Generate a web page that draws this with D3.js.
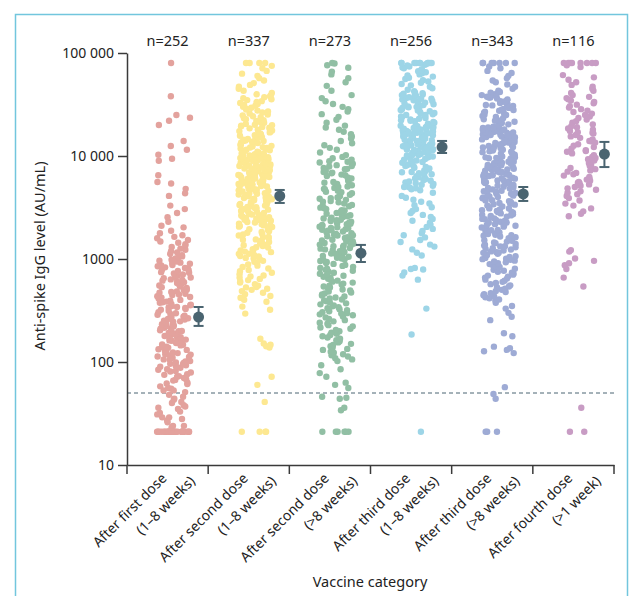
<!DOCTYPE html>
<html>
<head>
<meta charset="utf-8">
<script src="https://cdn.jsdelivr.net/npm/d3@7"></script>
<style>
  body { margin: 0; background: #fff; }
  svg { display: block; font-family: "Noto Sans", sans-serif; }
</style>
</head>
<body>
<div id="chart"></div>
<script>
// categories (two label lines each)
const categoryLine1 = ["After first dose", "After second dose", "After second dose", "After third dose", "After third dose", "After fourth dose"];
const categoryLine2 = ["(1–8 weeks)", "(1–8 weeks)", "(>8 weeks)", "(1–8 weeks)", "(>8 weeks)", "(>1 week)"];
const nCounts = [252, 337, 273, 256, 343, 116];

// geometric means with 95% CI (AU/mL)
const geoMeans = [273, 4090, 1140, 12200, 4280, 10450];
const ciLower = [224, 3500, 935, 10700, 3660, 7810];
const ciUpper = [342, 4680, 1370, 14000, 5000, 13700];

// y axis ticks and positivity threshold
const yTicks = [10, 100, 1000, 10000, 100000];
const yTickLabels = ["10", "100", "1000", "10 000", "100 000"];
const threshold = 50;

// individual anti-spike IgG levels (AU/mL)
const afterFirstDose = [
  21, 21, 21, 21, 21, 21, 21, 21, 21, 21, 21, 21, 21, 21, 21, 21, 21, 21, 21, 21, 21, 21, 21, 21, 21, 21, 21, 21,
  23, 24, 24, 26, 27, 28, 29, 29, 31, 32, 33, 35, 36, 37, 38, 40, 41, 43, 44, 46, 48,
  51, 53, 53, 55, 56, 58, 61, 62, 63, 66, 67, 68, 70, 72, 73, 75, 76, 79, 81, 82, 84, 85, 88, 90, 91, 93, 95, 96, 98, 99,
  101, 102, 105, 106, 110, 112, 113, 116, 118, 119, 122, 124, 127, 128, 131, 133, 134, 138, 140, 141,
  145, 147, 148, 153, 155, 156, 161, 162, 165, 170, 171, 174, 179, 180, 183, 189, 190, 193, 199, 200,
  203, 210, 211, 215, 221, 223, 226, 233, 235, 239, 246, 248, 252, 259, 262, 266, 274, 276, 281, 288, 292, 297, 305, 314,
  322, 327, 334, 338, 342, 349, 356, 360, 366, 375, 380, 386, 394, 401, 405, 414, 422, 428, 436, 447,
  452, 460, 471, 478, 485, 497, 504, 512, 524, 533, 540, 553, 562, 570, 584, 594, 601, 616, 626, 634,
  650, 661, 670, 686, 697, 706, 724, 736, 745, 764, 777, 786, 806, 820, 830, 851, 865, 874, 898, 913, 922, 947, 963, 986,
  1010, 1040, 1060, 1090, 1120, 1160, 1190, 1230, 1260, 1310, 1350, 1390, 1440, 1480, 1530, 1590, 1640, 1700, 1780, 1880,
  2030, 2100, 2300, 2550, 2800, 3050, 3300,
  4100, 4350, 4800, 5400, 5600, 6500, 9000, 9400, 10300, 11500, 12500, 14000, 20000, 22000, 23500, 25000, 38000, 80000
];

const afterSecondDoseEarly = [
  21, 21, 21, 21, 41, 60, 72,
  138, 142, 147, 151, 168, 295, 322, 345, 384, 402, 421, 437, 455, 470, 488, 502, 515, 530, 535, 552,
  568, 590, 606, 624, 641, 660, 678, 692, 712, 735, 760, 784, 810, 835, 862, 885, 910, 938, 960, 988,
  1010, 1025, 1060, 1070, 1095, 1120, 1125, 1165, 1180, 1210, 1230, 1245, 1290, 1300, 1335, 1360, 1370, 1415,
  1450, 1460, 1500, 1540, 1550, 1595, 1630, 1640, 1690, 1730, 1750, 1800, 1830, 1860, 1910, 1945, 1975,
  2010, 2045, 2060, 2095, 2120, 2135, 2175, 2200, 2215, 2260, 2290, 2305, 2350, 2385, 2400, 2440, 2465, 2500, 2545, 2570,
  2600, 2645, 2670, 2700, 2755, 2780, 2805, 2860, 2895, 2930, 2970, 3015, 3050, 3085, 3130, 3175, 3210, 3255, 3300, 3345,
  3390, 3425, 3480, 3525, 3570, 3605, 3660, 3715, 3760, 3805, 3860, 3915, 3960, 4005, 4070, 4125, 4180, 4225, 4290, 4345,
  4400, 4455, 4520, 4585, 4640, 4695, 4760, 4835, 4890, 4955,
  5010, 5070, 5110, 5160, 5200, 5250, 5290, 5340, 5390, 5430, 5480, 5530, 5580, 5630, 5680, 5730, 5780, 5830, 5880, 5940,
  5990, 6040, 6100, 6150, 6210, 6260, 6320, 6380, 6430, 6490, 6550, 6610, 6670, 6730, 6790, 6850, 6910, 6980, 7040, 7100,
  7170, 7230, 7300, 7360, 7430, 7500, 7570, 7630, 7700, 7770, 7840, 7910, 7990, 8060, 8130, 8210, 8280, 8360, 8430, 8510,
  8590, 8670, 8750, 8830, 8910, 8990, 9070, 9150, 9240, 9320, 9410, 9490, 9580, 9660, 9750, 9840, 9930, 9960, 9990, 5050,
  5600, 6200, 7000, 8000, 9000,
  10100, 10250, 10400, 10550, 10700, 10850, 11000, 11200, 11350, 11500, 11700, 11850, 12000, 12200, 12400, 12550, 12750,
  12950, 13150, 13350, 13550, 13750, 13950, 14150, 14400, 14600, 14800, 15050, 15250, 15500, 15700, 15950, 16200, 16450,
  16700, 16950, 17200, 17450, 17700, 18000, 18250, 18550, 18800, 19100, 19400, 19700, 19900, 10600, 12100, 14000,
  20100, 20500, 21000, 21400, 21900, 22300, 22800, 23300, 23800, 24300, 24800, 25300, 25900, 26400, 27000, 27600, 28200,
  28800, 29400, 30000, 30700, 31300, 32000, 32700, 33400, 34100, 34900, 35600, 36400, 37200, 38000, 38800, 39700,
  41000, 43000, 45000, 47000, 49000, 51000, 54000, 57000, 60000, 63000, 67000, 71000, 75000,
  80000, 80000, 80000, 80000
];

const afterSecondDoseLate = [
  21, 21, 21, 21, 21, 21, 34, 36, 44, 45, 46, 56, 60, 63, 72, 78, 85, 93,
  102, 106, 109, 113, 116, 119, 123, 126, 131, 134, 138, 142, 146, 150, 155, 159, 163, 168, 173, 178,
  183, 188, 193, 199, 205, 210, 216, 222, 228, 235, 241, 248, 255, 262, 270, 277, 284, 290, 295, 298,
  304, 311, 318, 325, 332, 340, 347, 355, 363, 371, 379, 388, 396, 405, 414, 423, 433, 442, 452, 462,
  473, 483, 494, 505, 516, 528, 540, 552, 564, 577, 590, 603, 616, 630, 644, 658, 673, 688, 703, 719,
  735, 751, 768, 785, 803, 820, 839, 857, 876, 896, 916, 936, 957, 978, 995,
  1010, 1030, 1050, 1070, 1090, 1110, 1130, 1150, 1170, 1190, 1220, 1240, 1260, 1280, 1310, 1330, 1360, 1380, 1410, 1430,
  1460, 1490, 1510, 1540, 1570, 1600, 1630, 1660, 1690, 1720, 1750, 1780, 1820, 1850, 1880, 1920, 1950, 1990, 2030, 2060,
  2100, 2140, 2180, 2220, 2260, 2300, 2340, 2380, 2430, 2470, 2520, 2560, 2610, 2660, 2700, 2750, 2800, 2850, 2900, 2960,
  1120, 1350, 1480, 1700, 1900, 2000, 2200, 2400, 2600, 2980,
  3050, 3150, 3250, 3350, 3450, 3550, 3650, 3750, 3850, 3950, 4100, 4200, 4350, 4450, 4600, 4750, 4900, 5050, 5200, 5350,
  5500, 5700, 5850, 6050, 6200, 6400, 6600, 6800, 7000, 7200, 7450, 7650, 7900, 8150, 8400, 8650, 8900, 9200, 9500, 9800,
  3300, 3600, 4000, 4500, 5000, 5600, 6100, 6900, 7500, 8000, 8800, 3100, 3900, 4800, 6500,
  10200, 10800, 11500, 12000, 12700, 13300, 14000, 14800, 15500, 16300, 17200, 18000, 18900, 19700,
  21000, 22500, 24000, 25500, 27000, 28500, 30000, 32000, 34000, 36500, 39000,
  43000, 48000, 52000, 57000, 62000, 66000, 72000, 76000, 79000, 80000
];

const afterThirdDoseEarly = [
  21, 185, 330, 630, 690, 740, 790, 800, 820,
  1080, 1150, 1240, 1320, 1380, 1460, 1530, 1620, 1700, 1780, 1870, 1960, 2050, 2150, 2250, 2350, 2450, 2560, 2680, 2800,
  2920, 3050, 3180, 3320, 3460, 3600, 3760, 3930, 4100, 4400,
  4650, 4750, 4850, 4950, 5050, 5150, 5250, 5350, 5450, 5550, 5650, 5750, 5850, 5950, 6050, 6200, 6350, 6500, 6650, 6800,
  6950, 7100, 7250, 7400, 7550, 7700, 7850, 8000, 8150, 8300, 8450, 8600, 8750, 8900, 9050, 9200, 9350, 9500, 9650, 9800,
  9900, 5000, 6000, 7000, 8000,
  10050, 10150, 10250, 10350, 10450, 10550, 10650, 10750, 10850, 10950, 11050, 11150, 11250, 11350, 11450, 11550, 11650,
  11750, 11850, 11950, 12050, 12150, 12250, 12350, 12450, 12550, 12650, 12750, 12850, 12950, 13050, 13200, 13350, 13500,
  13650, 13800, 13950, 14100, 14250, 14400, 14550, 14700, 14850, 15000, 15150, 15300, 15450, 15600, 15750, 15900, 16050,
  16200, 16350, 16500, 16650, 16800, 16950, 17100, 17250, 17400, 17550, 17700, 17850, 18000, 18150, 18300, 18450, 18600,
  18750, 18900, 19050, 19200, 19350, 19500, 19650, 19800, 19950, 11000, 12000, 13000, 14000, 15000, 16000, 17000, 18000,
  19000, 12500,
  20200, 20600, 21000, 21400, 21800, 22200, 22600, 23000, 23400, 23800, 24200, 24600, 25000, 25400, 25800, 26200, 26700,
  27200, 27700, 28200, 28700, 29200, 29700, 30200, 30700, 31200, 31800, 32400, 33000, 33600, 34200, 34800, 35400, 36000,
  36600, 37200, 37800, 38400, 39000, 39600, 40200, 40800, 41400, 22000, 25000, 28000, 30000, 33000, 36000, 39000,
  42500, 44000, 45500, 47000, 48500, 50000, 51500, 53000, 54500, 56000, 57500, 59000, 60500, 62000, 63500, 65000, 66500,
  68000, 69500, 71000, 72500, 74000, 75500, 77000, 78500,
  80000, 80000, 80000, 80000, 80000, 80000, 80000, 80000, 80000, 80000
];

const afterThirdDoseLate = [
  21, 21, 21, 44, 49, 57,
  122, 127, 131, 136, 141, 178, 190, 255, 275, 300, 330, 350, 375, 395,
  405, 415, 425, 435, 445, 455, 465, 478, 490, 502, 515, 528, 540, 555, 570, 585, 600,
  615, 630, 645, 660, 675, 690, 705, 720, 735, 750, 768, 785, 803, 820, 838, 856, 874, 892, 910, 928, 946, 964, 982, 997,
  1005, 1025, 1045, 1065, 1085, 1105, 1125, 1145, 1165, 1185, 1210, 1235, 1255, 1275, 1300, 1325, 1350, 1375, 1400, 1425,
  1450, 1475, 1505, 1535, 1565, 1595, 1625, 1655, 1685, 1715, 1745, 1775, 1810, 1845, 1880, 1915, 1950, 1985, 2020, 2060,
  2100, 2140, 2180, 2220, 2260, 2300, 2345, 2390, 2435, 2480, 2525, 2570, 2620, 2670, 2720, 2770, 2820, 2870, 2920, 2970,
  1150, 1330, 1520, 1700, 1900, 2100, 2250, 2450, 2650, 2850,
  3020, 3090, 3160, 3230, 3300, 3370, 3440, 3510, 3580, 3650, 3720, 3800, 3880, 3960, 4040, 4120, 4200, 4290, 4380, 4470,
  4560, 4650, 4740, 4840, 4940, 5040, 5140, 5240, 5350, 5460, 5570, 5680, 5790, 5910, 6030, 6150, 6270, 6400, 6530, 6660,
  6790, 6930, 7070, 7210, 7350, 7500, 7650, 7800, 7960, 8120, 8280, 8450, 8620, 8790, 8970, 9150, 9330, 9520, 9710, 9900,
  3100, 3400, 3700, 4000, 4300, 4600, 4900, 5200, 5500, 5800, 6100, 6400, 6700, 7000, 7300, 7600, 7900, 8200, 8500, 8800,
  9100, 9400, 9700, 3500, 4500, 5600, 6500, 7400, 8400, 9600,
  10100, 10300, 10500, 10700, 10900, 11100, 11300, 11500, 11700, 11900, 12100, 12300, 12500, 12700, 12900, 13100, 13300,
  13500, 13700, 13900, 14100, 14300, 14500, 14700, 14900, 15100, 15300, 15500, 15700, 15900, 16100, 16300, 16500, 16700,
  16900, 17100, 17300, 17500, 17700, 17900, 18100, 18300, 18500, 18700, 18900, 19100, 19300, 19500, 19700, 19900,
  10400, 11000, 11600, 12200, 12800, 13400, 14000, 14600, 15200, 16000, 17000, 18000, 19000,
  20300, 20900, 21500, 22100, 22700, 23300, 23900, 24500, 25100, 25700, 26300, 26900, 27500, 28100, 28700, 29300, 29900,
  30600, 31300, 32000, 32700, 33400, 34100, 34800, 35500, 36200, 36900, 37600, 38300, 39000, 39700, 40400, 41100, 41800,
  22000, 25000, 28000, 31000, 34000, 37000,
  43000, 45000, 47000, 49500, 52000, 54000, 57000, 60000, 64000, 67000, 71000, 74000,
  80000, 80000, 80000, 80000, 80000, 80000, 80000
];

const afterFourthDose = [
  21, 21, 36, 540, 660, 800, 870, 910, 960,
  1010, 1180, 1220, 2600, 2750, 2900, 3100, 3300, 3450, 3700, 3900,
  4100, 4250, 4400, 4550, 4700, 4850, 5000, 5150, 5300, 5450, 5600, 5750, 5900, 6050, 6250, 6450, 6650, 6850, 7050, 7250,
  7450, 7650, 7850, 8050, 8300, 8550, 8800, 9050, 9300, 9550, 9800, 5500,
  10200, 10600, 11000, 11400, 11800, 12200, 12600, 13000, 13500, 14000, 14500, 15000, 15500, 16000, 16500, 17000, 17500,
  18000, 18500, 19000, 19500, 11200, 13800, 16800,
  20300, 21000, 21800, 22600, 23400, 24200, 25000, 25800, 26700, 27600, 28500, 29500, 30500, 31500, 32500, 33500, 34500,
  35500, 36500, 37500,
  39000, 41000, 43000, 45000, 47000, 49000, 52000, 55000, 58000, 61000, 73000, 76000,
  80000, 80000, 80000, 80000, 80000, 80000, 80000, 80000
];

const series = [afterFirstDose, afterSecondDoseEarly, afterSecondDoseLate, afterThirdDoseEarly, afterThirdDoseLate, afterFourthDose];
const colors = ["#e3a29d", "#fde891", "#91bfa4", "#9dd5e7", "#9eabd5", "#c89cc4"];

const width = 633, height = 596;

// scales
const x = d3.scaleBand().domain(d3.range(categoryLine1.length)).range([127, 614]);
const y = d3.scaleLog().domain([10, 100000]).range([465, 53]);

// stable horizontal jitter per point
function jitter(i, k) {
  const s = Math.sin(i * 127.1 + k * 311.7) * 43758.5453;
  return s - Math.floor(s);
}

const svg = d3.select("#chart").append("svg")
  .attr("width", width)
  .attr("height", height);

// panel border
svg.append("rect")
  .attr("x", 15.5).attr("y", 14.5)
  .attr("width", 612).attr("height", 600)
  .attr("fill", "none")
  .attr("stroke", "#72c6dd")
  .attr("stroke-width", 1.5);

// threshold line
svg.append("line")
  .attr("x1", 127).attr("x2", 614)
  .attr("y1", y(threshold)).attr("y2", y(threshold))
  .attr("stroke", "#4b6472")
  .attr("stroke-width", 1)
  .attr("stroke-dasharray", "4,3");

// points
series.forEach((values, k) => {
  const cx = x(k) + x.bandwidth() / 2 + 6.5;
  svg.append("g")
    .selectAll("circle")
    .data(values)
    .join("circle")
    .attr("cx", (d, i) => cx + (jitter(i, k) - 0.5) * 34)
    .attr("cy", d => y(d))
    .attr("r", 3.2)
    .attr("fill", colors[k]);
});

// geometric mean and 95% CI
const meanG = svg.append("g")
  .attr("stroke", "#4a6470")
  .attr("fill", "#4a6470");
geoMeans.forEach((m, k) => {
  const mx = x(k) + x.bandwidth() / 2 + 31;
  meanG.append("line")
    .attr("x1", mx).attr("x2", mx)
    .attr("y1", y(ciLower[k])).attr("y2", y(ciUpper[k]))
    .attr("stroke-width", 2);
  [ciLower[k], ciUpper[k]].forEach(v => {
    meanG.append("line")
      .attr("x1", mx - 5).attr("x2", mx + 5)
      .attr("y1", y(v)).attr("y2", y(v))
      .attr("stroke-width", 2);
  });
  meanG.append("circle")
    .attr("cx", mx).attr("cy", y(m))
    .attr("r", 5.5)
    .attr("stroke", "none");
});

// y axis
const yAxis = svg.append("g")
  .attr("transform", "translate(127,0)")
  .call(d3.axisLeft(y)
    .tickValues(yTicks)
    .tickFormat((d, i) => yTickLabels[i])
    .tickSize(9)
    .tickSizeOuter(0)
    .tickPadding(4));
yAxis.select(".domain").attr("stroke", "#3a3a3a").attr("stroke-width", 1.5);
yAxis.selectAll(".tick line").attr("stroke", "#3a3a3a").attr("stroke-width", 1.5);
yAxis.selectAll(".tick text")
  .attr("font-size", 14)
  .attr("font-family", "Noto Sans")
  .attr("fill", "#222");

// x axis
const xAxis = svg.append("g")
  .attr("transform", "translate(0,465)")
  .call(d3.axisBottom(x).tickSize(0).tickSizeOuter(0).tickFormat(""));
xAxis.select(".domain").attr("stroke", "#3a3a3a").attr("stroke-width", 1.5);

// boundary ticks between categories
const bounds = x.domain().map(k => x(k)).concat([x.range()[1]]);
xAxis.selectAll(".bound")
  .data(bounds)
  .join("line")
  .attr("class", "bound")
  .attr("x1", d => d).attr("x2", d => d)
  .attr("y1", 0).attr("y2", 9)
  .attr("stroke", "#3a3a3a")
  .attr("stroke-width", 1.5);

// rotated category labels
const labels = svg.append("g")
  .selectAll("g")
  .data(x.domain())
  .join("g")
  .attr("transform", k => `translate(${x(k) + x.bandwidth() / 2},465) rotate(-45)`)
  .attr("font-size", 14)
  .attr("fill", "#222");
labels.append("text")
  .attr("text-anchor", "end")
  .attr("x", -10).attr("y", 10)
  .text(k => categoryLine1[k]);
labels.append("text")
  .attr("text-anchor", "end")
  .attr("x", 8).attr("y", 32)
  .text(k => categoryLine2[k]);

// n labels
svg.append("g")
  .selectAll("text")
  .data(nCounts)
  .join("text")
  .attr("x", (d, k) => x(k) + x.bandwidth() / 2)
  .attr("y", 46)
  .attr("text-anchor", "middle")
  .attr("font-size", 14.5)
  .attr("fill", "#222")
  .text(d => "n=" + d);

// axis titles
svg.append("text")
  .attr("transform", "translate(45,256) rotate(-90)")
  .attr("text-anchor", "middle")
  .attr("font-size", 14.5)
  .attr("fill", "#222")
  .text("Anti-spike IgG level (AU/mL)");

svg.append("text")
  .attr("x", 370).attr("y", 587)
  .attr("text-anchor", "middle")
  .attr("font-size", 14.5)
  .attr("fill", "#222")
  .text("Vaccine category");

console.log(series.map(s => s.length).join(","));
</script>
</body>
</html>
